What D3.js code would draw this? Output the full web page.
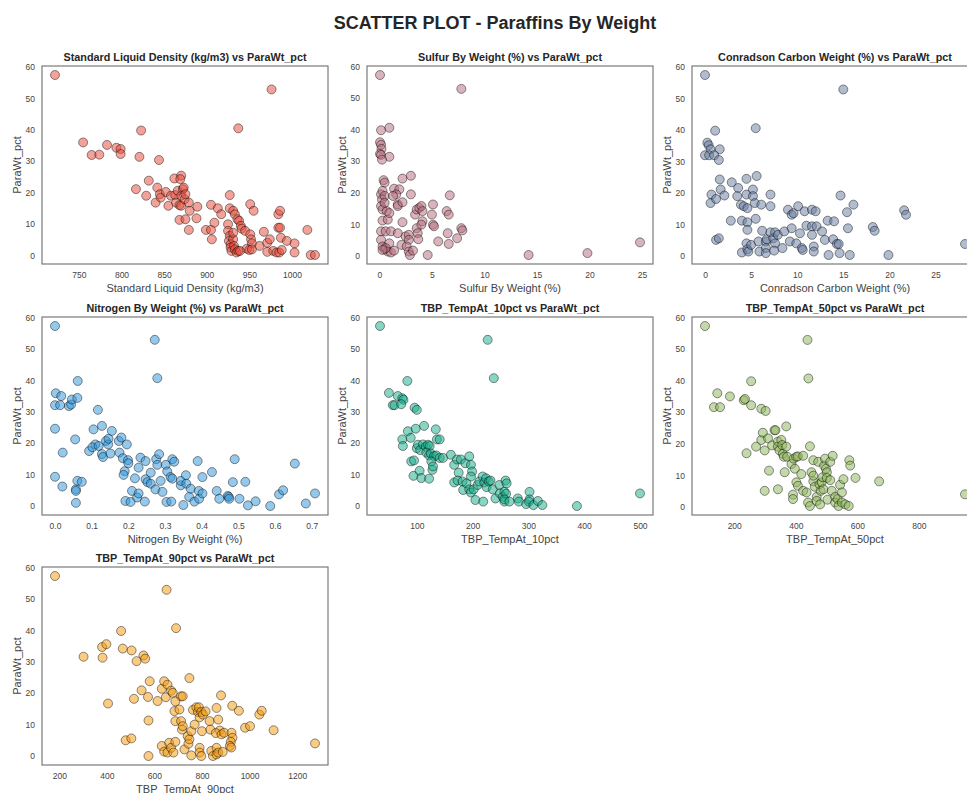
<!DOCTYPE html>
<html>
<head>
<meta charset="utf-8">
<script src="https://cdn.jsdelivr.net/npm/d3@7"></script>
<style>
  body { margin: 0; background: #fff; }
  text { font-family: "Liberation Sans", Arial, sans-serif; }
</style>
</head>
<body>
<div id="chart-area"></div>
<script>
// ParaWt_pct against each feature
var densityPts = [[722,57.5],[755,36],[765,32],[774,32.1],[783,35.2],[794,34.3],[799,33.9],[799,32.3],[823,39.8],[821,31.4],[844,30.4],[817,21.1],[829,19],[832,23.8],[842,21.6],[840,16.8],[845,19.5],[846,18.4],[852,20.2],[855,15.8],[858,19],[862,24.5],[863,19.2],[864,16.8],[866,20.6],[868,16],[870,25.4],[869,24.3],[870,19],[870,15.8],[872,21.1],[873,21.6],[874,17.9],[875,19.5],[868,11.3],[875,11.5],[879,16.8],[880,14.2],[879,8.1],[889,15.5],[888,11.8],[905,16.1],[899,8.1],[905,8.1],[909,10.4],[906,5.1],[913,15],[917,13.1],[927,19.2],[927,15],[931,14.2],[933,13.1],[936,11.5],[938,11],[940,9.4],[941,8.5],[945,7.8],[951,16.3],[955,14.2],[951,6.7],[952,5.1],[953,3.8],[947,2.1],[950,1.7],[953,1.9],[925,9.9],[925,7.8],[927,6.2],[926,4.6],[928,3.5],[928,2.5],[929,1.4],[931,5.1],[932,3.0],[933,1.9],[935,0.9],[937,1.4],[939,1.4],[931,7.2],[962,3.0],[967,7.5],[971,4.0],[971,1.1],[974,5.1],[978,1.4],[976,52.9],[982,0.9],[985,0.9],[984,13.1],[986,14.2],[984,8.8],[986,8.8],[987,5.6],[988,1.7],[994,4.6],[1003,3.8],[1003,0.9],[1018,8.1],[1022,0.1],[1027,0.1],[937,40.5]];

var sulfurPts = [[0.06,57.3],[7.8,52.9],[0.16,39.8],[0.95,40.6],[0.06,36],[0.16,35.2],[0.2,33.9],[0.06,32.3],[0.16,32],[0.95,31.4],[0.25,30.5],[0.4,24],[0.5,23.2],[0.16,19.5],[0.3,20.6],[0.25,17.9],[0.5,19],[0.16,15.8],[0.3,14.7],[0.7,14.2],[0.5,16.8],[1.4,21.3],[1.9,21.1],[1.6,19.5],[1.75,16.3],[1.75,15.8],[2.2,17],[2.2,24.5],[3.0,25.4],[3.0,19.5],[0.3,11.2],[0.8,11.5],[0.95,13.6],[1.3,19],[0.16,7.8],[0.6,7.8],[1.1,7.8],[1.75,7.2],[2.2,10.7],[0.16,5.1],[0.3,3.0],[0.5,2.1],[0.8,1.4],[1.1,1.1],[1.4,1.7],[0.95,4],[0.6,2.5],[0.3,1.9],[2.1,3.5],[2.5,6.2],[2.8,6.7],[2.8,5.1],[2.6,3.0],[2.8,1.4],[2.9,0.3],[3.2,1.7],[3.4,13.1],[3.55,14.7],[3.8,15.2],[4.0,15.8],[4.1,14.2],[4.1,11],[3.55,8.8],[3.65,7.2],[4.0,9.9],[3.7,5.3],[4.6,0.3],[5.1,16.3],[5.0,13.1],[5.1,9.9],[5.2,9.4],[5.6,4.6],[6.4,14.2],[6.6,13.1],[6.7,19.2],[6.5,7.2],[6.6,3.8],[7.4,5.6],[7.8,8.8],[7.9,8.1],[14.2,0.3],[19.8,0.9],[24.8,4.3]];

var carbonPts = [[0,57.5],[15,52.9],[1.1,39.8],[5.5,40.6],[0.25,36],[0.4,35.2],[0.6,33.9],[1.6,33.9],[0,32],[0.45,32],[1.0,32],[1.5,30.5],[1.6,24.3],[0.7,19.5],[0.6,16.8],[1.2,18.1],[1.7,21.1],[2.1,19.2],[2.9,23.4],[2.8,11.2],[3.6,21.6],[3.5,19],[3.9,16.3],[4.2,15.8],[4.5,24.5],[4.5,19.5],[4.6,15.2],[4.0,11.2],[4.6,10.7],[4.6,8.3],[5.2,21.1],[5.2,19],[5.4,16.8],[5.5,11.8],[5.6,25.4],[6.1,16.3],[7.1,19.5],[7.1,15.8],[1.2,5.1],[1.5,5.6],[4.0,1.1],[4.5,4.0],[4.6,2.1],[4.7,1.4],[5.0,3.5],[5.8,4.6],[5.9,1.4],[6.2,8.0],[6.6,4.6],[6.6,2.5],[6.6,0.9],[6.7,5.3],[7.1,7.5],[7.4,5.6],[7.6,7.5],[7.6,4.0],[7.5,1.7],[7.9,6.7],[8.4,2.5],[8.6,7.8],[9.0,14.7],[9.4,13.1],[9.6,13.6],[9.2,4.6],[9.4,8.8],[9.9,4.0],[10.1,15.8],[10.3,7.2],[10.5,2.5],[10.6,1.9],[10.8,14.2],[11.0,9.6],[11.6,14.7],[11.6,9.4],[11.6,6.7],[11.8,3.0],[11.8,1.4],[12.0,14.2],[12.1,9.4],[12.7,7.8],[13.0,5.1],[13.3,11.2],[13.4,0.3],[13.9,5.3],[14.0,11],[14.3,3.8],[14.5,3.8],[14.6,0.9],[14.7,19.2],[15.4,13.9],[15.5,8.8],[15.7,0.3],[16.1,16.3],[18.2,9.2],[18.4,8.0],[19.9,0.3],[21.6,14.5],[21.8,13.1],[28.2,3.8]];

var nitrogenPts = [[0,57.3],[0.272,52.9],[0.279,40.7],[0.062,39.8],[0.002,35.9],[0.017,35],[0,32.1],[0.014,32.1],[0.038,31.8],[0.044,32.3],[0.046,33.9],[0.061,34.4],[0,24.6],[0.055,21.2],[0.021,17],[0,9.3],[0.02,6.2],[0.057,5.3],[0.057,4.8],[0.061,8],[0.073,7.7],[0.057,1],[0.117,30.6],[0.105,24.4],[0.128,25.5],[0.093,17.5],[0.11,19.6],[0.102,18.7],[0.119,19.1],[0.128,16.5],[0.131,15.6],[0.139,20.7],[0.145,19.6],[0.146,21.4],[0.155,23.9],[0.151,16.7],[0.174,20.7],[0.181,21.8],[0.176,17],[0.185,15.2],[0.19,11.1],[0.187,9.9],[0.196,19.6],[0.199,14.6],[0.2,13.6],[0.192,1.6],[0.206,1.3],[0.21,4.8],[0.218,8.8],[0.224,2.7],[0.228,4],[0.228,12.2],[0.233,15.4],[0.245,1.4],[0.247,14.3],[0.247,8.5],[0.252,7.6],[0.261,10.6],[0.261,7.1],[0.274,5.3],[0.276,14.9],[0.279,13.1],[0.284,16.5],[0.288,8],[0.293,4.5],[0.302,13.1],[0.304,1.3],[0.306,11],[0.315,9.2],[0.317,1.4],[0.32,14.9],[0.325,14.1],[0.32,8.7],[0.343,6.6],[0.343,8],[0.357,9.8],[0.35,0.3],[0.358,7.1],[0.366,2.9],[0.37,5.5],[0.38,1.4],[0.389,14.3],[0.392,4.8],[0.393,2.3],[0.402,4],[0.402,9.2],[0.428,10.8],[0.441,4.8],[0.448,2.3],[0.471,3.2],[0.474,2.9],[0.475,2.3],[0.485,7.6],[0.49,14.9],[0.503,2.3],[0.519,7.7],[0.526,0.2],[0.547,1.5],[0.587,0],[0.611,3.7],[0.622,5],[0.654,13.5],[0.684,0.8],[0.709,4]];

var tbp10Pts = [[34,57.3],[227,52.9],[238,40.7],[83,39.8],[50,36],[66,35],[74,34.3],[76,33.8],[57,32.1],[60,32.1],[72,32.4],[96,31.3],[100,30.6],[74,21.2],[75,19.1],[84,23.8],[89,21.7],[98,24.6],[113,25.5],[134,24.4],[136,21.2],[141,21.2],[100,18.4],[102,19.5],[106,17.8],[111,19.6],[116,18.9],[120,19.5],[123,19.1],[117,17],[122,16.1],[125,16.7],[131,15.9],[135,16.1],[141,15.3],[147,15.3],[90,14.2],[95,14.5],[126,14.2],[128,11.5],[129,12.6],[94,9.6],[105,11.2],[108,8.9],[122,8.7],[161,16.3],[167,13.1],[172,14.8],[175,10.6],[179,14.8],[187,13.6],[194,15.8],[197,13.1],[199,11],[197,9.4],[167,7.5],[173,8.1],[182,7.8],[183,5.1],[189,7.2],[194,5.3],[197,4.3],[202,5.3],[205,1.9],[209,6.7],[212,7.8],[218,9.4],[221,7.5],[224,8.8],[225,6],[229,7.8],[232,8.1],[219,1.4],[236,5.3],[241,2.4],[248,6.7],[249,4],[254,2.9],[257,4.5],[257,1.4],[259,8.1],[261,7.2],[260,3.9],[257,2.1],[266,1.4],[281,2.4],[283,1.4],[296,0.6],[302,4.5],[302,2.1],[301,1.4],[309,0.3],[317,1.6],[325,0.3],[387,0],[500,4]];

var tbp50Pts = [[105,57.3],[438,52.9],[441,40.7],[255,39.8],[145,36],[186,35],[231,33.8],[235,34.2],[134,31.6],[154,31.6],[255,32.2],[288,31.1],[302,30.4],[240,17],[271,19.1],[288,21.2],[293,23.5],[299,17.9],[310,21.7],[313,11.5],[299,5.1],[323,19.5],[331,24.3],[334,24.3],[342,20.7],[342,19.1],[347,17.9],[353,21.2],[356,19.6],[358,16.8],[361,15.9],[369,25.5],[369,19.1],[372,15.9],[364,11],[342,5.6],[386,13.6],[393,15.3],[397,12.1],[402,15.9],[407,16],[418,10.4],[402,7.8],[407,6.7],[391,3.9],[391,2.5],[424,16.2],[424,5.1],[435,4.6],[446,19.2],[440,1.4],[446,0.3],[451,11],[457,8.1],[457,9.9],[457,14.8],[462,6.4],[468,3.2],[468,1.9],[473,14.3],[477,7.2],[481,5.1],[484,7.8],[487,9.4],[490,5.6],[492,13.1],[479,0.8],[495,15.3],[498,12.1],[501,11],[501,9.2],[503,2.3],[512,8.5],[512,14.3],[517,5.1],[520,16.2],[528,3.2],[528,1.4],[536,2.5],[539,0.3],[544,7],[550,4.6],[550,1.4],[555,8.8],[561,0.8],[572,0.3],[574,14.8],[577,13.1],[594,9.2],[671,8.1],[950,4]];

var tbp90Pts = [[182,57.3],[651,52.9],[691,40.7],[460,39.8],[382,31.3],[302,31.6],[380,34.7],[398,35.6],[467,34.2],[504,33.6],[525,30.2],[554,32],[561,31],[405,16.7],[514,18.2],[546,20.9],[573,18.8],[580,23.8],[613,17.5],[631,21.4],[641,23.8],[655,22.7],[648,18.7],[670,20.8],[677,20.1],[684,14.3],[688,17.4],[705,14.8],[712,19],[719,19],[747,24.8],[688,11.1],[712,11.1],[716,8.4],[719,9.5],[575,11.3],[479,5],[503,5.6],[575,0],[631,3.2],[641,1.4],[655,1.1],[662,4.2],[670,2.6],[680,1.1],[688,4.5],[726,2.1],[740,6.3],[743,3.9],[747,5.3],[755,0.2],[755,7.9],[762,14.7],[769,10],[776,15.5],[783,14],[787,15.5],[790,12.3],[797,14],[800,7.9],[790,2.6],[790,1.1],[804,13.2],[815,14.2],[832,11.1],[835,8.4],[839,1.6],[846,0],[797,0],[861,2.6],[861,0.5],[868,1.1],[861,15.3],[875,8.1],[868,11.6],[858,7.3],[882,6.9],[893,7.4],[887,1.3],[880,19.3],[924,7.4],[928,5.8],[921,4.5],[917,3.2],[923,2.7],[927,16],[955,14.4],[981,9],[1002,9.5],[1041,13.2],[1051,14.4],[1101,8.2],[1275,4]];

var featureNames = ["Standard Liquid Density (kg/m3)", "Sulfur By Weight (%)", "Conradson Carbon Weight (%)",
                    "Nitrogen By Weight (%)", "TBP_TempAt_10pct", "TBP_TempAt_50pct", "TBP_TempAt_90pct"];
var targetName = "ParaWt_pct";
var pointColors = ["#e74c3c", "#b86f7e", "#6a7ea3", "#3498db", "#1aaf8c", "#8db65a", "#f39c12"];

var xTickValues = [[750,800,850,900,950,1000], [0,5,10,15,20,25], [0,5,10,15,20,25],
                   [0,0.1,0.2,0.3,0.4,0.5,0.6,0.7], [100,200,300,400,500], [200,400,600,800],
                   [200,400,600,800,1000,1200]];
var yTickValues = [0,10,20,30,40,50,60];

var panelData = [densityPts, sulfurPts, carbonPts, nitrogenPts, tbp10Pts, tbp50Pts, tbp90Pts];

var width = 967, height = 793;
var pw = 286, ph = 198;
var colX = [42, 367, 692];
var rowY = [66, 317, 567];

var svg = d3.select("#chart-area")
  .append("svg")
  .attr("width", width)
  .attr("height", height);

svg.append("text")
  .attr("x", 495)
  .attr("y", 29)
  .attr("text-anchor", "middle")
  .attr("font-size", "18px")
  .attr("font-weight", "bold")
  .attr("fill", "#262626")
  .text("SCATTER PLOT - Paraffins By Weight");

function padded(ext) {
  var p = (ext[1] - ext[0]) * 0.05;
  return [ext[0] - p, ext[1] + p];
}

panelData.forEach(function(pts, i) {
  var g = svg.append("g")
    .attr("transform", "translate(" + colX[i % 3] + "," + rowY[Math.floor(i / 3)] + ")");

  var x = d3.scaleLinear().domain(padded(d3.extent(pts, d => d[0]))).range([0, pw]);
  var y = d3.scaleLinear().domain(padded(d3.extent(pts, d => d[1]))).range([ph, 0]);

  var fmt = i == 3 ? d3.format(".1f") : d3.format("d");

  var xAxis = g.append("g")
    .attr("transform", "translate(0," + ph + ")")
    .call(d3.axisBottom(x).tickValues(xTickValues[i]).tickSize(0).tickPadding(8).tickFormat(fmt));
  var yAxis = g.append("g")
    .call(d3.axisLeft(y).tickValues(yTickValues).tickSize(0).tickPadding(7));

  [xAxis, yAxis].forEach(function(ax) {
    ax.select(".domain").remove();
    ax.selectAll("text")
      .attr("font-size", "8.5px")
      .attr("fill", "#444")
      .style("font-family", '"Liberation Sans", Arial, sans-serif');
  });

  g.selectAll("circle")
    .data(pts)
    .enter().append("circle")
    .attr("cx", d => x(d[0]))
    .attr("cy", d => y(d[1]))
    .attr("r", 4.5)
    .attr("fill", pointColors[i])
    .attr("fill-opacity", 0.52)
    .attr("stroke", "#000")
    .attr("stroke-opacity", 0.55)
    .attr("stroke-width", 0.8);

  g.append("rect")
    .attr("width", pw)
    .attr("height", ph)
    .attr("fill", "none")
    .attr("stroke", "#7a7a7a")
    .attr("stroke-width", 1.2);

  g.append("text")
    .attr("x", pw / 2)
    .attr("y", -5)
    .attr("text-anchor", "middle")
    .attr("font-size", "10.8px")
    .attr("font-weight", "bold")
    .attr("fill", "#262626")
    .text(featureNames[i] + " vs " + targetName);

  g.append("text")
    .attr("x", pw / 2)
    .attr("y", ph + 28)
    .attr("text-anchor", "middle")
    .attr("font-size", "11px")
    .attr("fill", "#444")
    .text(featureNames[i]);

  g.append("text")
    .attr("x", -ph / 2)
    .attr("y", -21)
    .attr("text-anchor", "middle")
    .attr("transform", "rotate(-90)")
    .attr("font-size", "11px")
    .attr("fill", "#444")
    .text(targetName);
});
</script>
</body>
</html>
